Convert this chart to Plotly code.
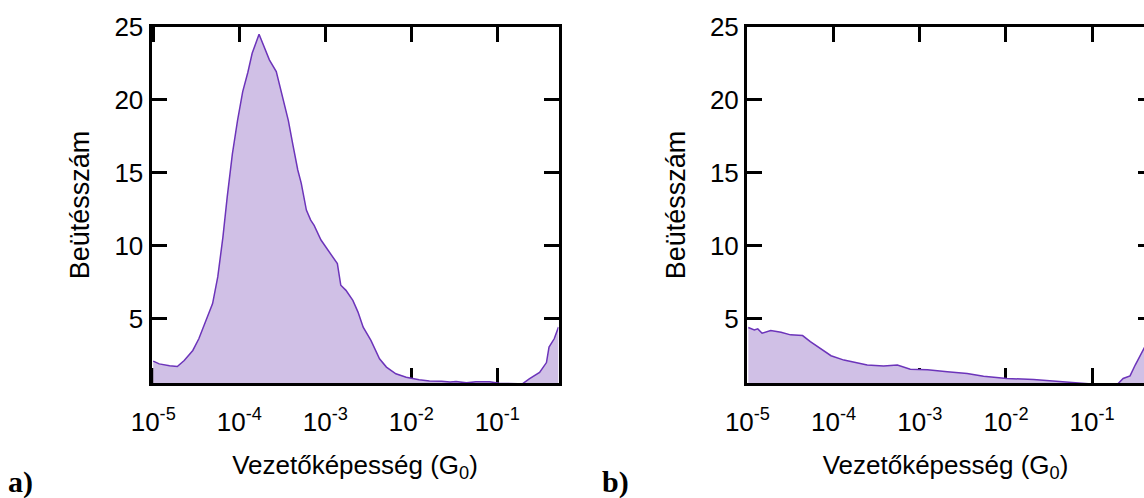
import numpy as np
import plotly.graph_objects as go

# ---------------- data (log10 of conductance in G0, counts) ----------------
a_logG = [-5.00, -4.93, -4.81, -4.72, -4.64, -4.54, -4.47, -4.37, -4.31, -4.25,
          -4.19, -4.14, -4.08, -4.02, -3.96, -3.90, -3.85, -3.77, -3.71, -3.65,
          -3.57, -3.50, -3.43, -3.38, -3.32, -3.28, -3.22, -3.17, -3.13, -3.05,
          -2.95, -2.86, -2.82, -2.76, -2.68, -2.62, -2.56, -2.47, -2.37, -2.29,
          -2.18, -2.06, -1.91, -1.79, -1.65, -1.55, -1.48, -1.36, -1.25, -1.09,
          -0.98, -0.85, -0.71, -0.63, -0.51, -0.43, -0.40, -0.34, -0.29]
a_counts = [2.10, 1.91, 1.78, 1.73, 2.14, 2.83, 3.63, 5.12, 6.04, 7.87,
            10.6, 13.36, 16.3, 18.6, 20.57, 21.9, 23.2, 24.5, 23.66, 22.75,
            21.95, 20.23, 18.6, 17.03, 15.2, 14.3, 12.45, 11.76, 11.4, 10.4,
            9.58, 8.78, 7.30, 6.95, 6.26, 5.46, 4.43, 3.52, 2.26, 1.69,
            1.23, 1.00, 0.82, 0.73, 0.72, 0.66, 0.70, 0.61, 0.68, 0.68,
            0.59, 0.56, 0.54, 0.88, 1.33, 2.00, 3.06, 3.63, 4.43]

b_logG = [-4.99, -4.92, -4.88, -4.83, -4.73, -4.61, -4.50, -4.36, -4.27, -4.15,
          -4.03, -3.88, -3.73, -3.61, -3.42, -3.26, -3.11, -2.91, -2.68, -2.45,
          -2.26, -1.99, -1.68, -1.41, -1.18, -0.98, -0.83, -0.71, -0.64, -0.56,
          -0.50, -0.45, -0.40, -0.34, -0.28]
b_counts = [4.40, 4.24, 4.31, 4.01, 4.20, 4.08, 3.90, 3.85, 3.44, 2.98,
            2.47, 2.17, 1.99, 1.83, 1.76, 1.83, 1.55, 1.50, 1.37, 1.25,
            1.07, 0.91, 0.84, 0.72, 0.63, 0.52, 0.40, 0.49, 0.91, 1.09,
            1.83, 2.40, 2.98, 3.60, 4.30]

x_tickvals = [1e-5, 1e-4, 1e-3, 1e-2, 1e-1]
x_ticktext = ["10<sup>-5</sup>", "10<sup>-4</sup>", "10<sup>-3</sup>",
              "10<sup>-2</sup>", "10<sup>-1</sup>"]
y_tickvals = [5, 10, 15, 20, 25]
x_title = "Vezetőképesség (G<sub>0</sub>)"
y_title = "Beütésszám"
panel_labels = ["a)", "b)"]

# ---------------- styling ----------------
W, H = 1144, 498
FILL = "rgb(208,192,230)"
LINE = "rgb(108,52,186)"
FONT = "Liberation Sans"

fig = go.Figure()
fig.add_trace(go.Scatter(x=np.power(10.0, a_logG), y=a_counts, mode="lines",
                         fill="tozeroy", fillcolor=FILL,
                         line=dict(color=LINE, width=1.5),
                         xaxis="x", yaxis="y", showlegend=False))
fig.add_trace(go.Scatter(x=np.power(10.0, b_logG), y=b_counts, mode="lines",
                         fill="tozeroy", fillcolor=FILL,
                         line=dict(color=LINE, width=1.5),
                         xaxis="x2", yaxis="y2", showlegend=False))
# helper trace for right-side tick marks of the cropped panel b
fig.add_trace(go.Scatter(x=[], y=[], xaxis="x2", yaxis="y3", showlegend=False))

ydom = [1 - 383 / H, 1 - 27 / H]
yrange = [0.6, 25.0]

common_x = dict(type="log", showgrid=False, zeroline=False, showline=True,
                linecolor="black", linewidth=3, ticks="inside", ticklen=15,
                tickwidth=3, tickcolor="black", tickvals=x_tickvals,
                ticktext=x_ticktext, tickfont=dict(family=FONT, size=26, color="black"),
                ticklabelstandoff=14,
                layer="below traces", automargin=False,
                title=dict(text=x_title, font=dict(family=FONT, size=26, color="black"),
                           standoff=20))
common_y = dict(showgrid=False, zeroline=False, showline=True, linecolor="black",
                linewidth=3, ticks="inside", ticklen=15, tickwidth=3,
                tickcolor="black", tickvals=y_tickvals, range=yrange, domain=ydom,
                tickfont=dict(family=FONT, size=26, color="black"),
                layer="below traces", automargin=False,
                title=dict(text=y_title, font=dict(family=FONT, size=27, color="black"),
                           standoff=17))

fig.update_layout(
    width=W, height=H, margin=dict(l=0, r=0, t=0, b=0),
    paper_bgcolor="white", plot_bgcolor="white",
    xaxis=dict(common_x, domain=[151.5 / W, 558.5 / W], range=[-5.02, -0.29],
               anchor="y", mirror="ticks"),
    yaxis=dict(common_y, anchor="x", mirror="ticks"),
    xaxis2=dict(common_x, domain=[747 / W, 1.0], range=[-5.005, -0.398],
                anchor="y2", mirror="ticks"),
    yaxis2=dict(common_y, anchor="x2", mirror=False),
    yaxis3=dict(overlaying="y2", side="right", anchor="x2", range=yrange,
                showgrid=False, zeroline=False, showline=False, ticks="inside",
                ticklen=6, tickwidth=3, tickcolor="black", tickvals=y_tickvals,
                showticklabels=False, layer="below traces"),
    annotations=[
        dict(text=panel_labels[0], x=6 / W, y=1 - 482 / H, xref="paper", yref="paper",
             xanchor="left", yanchor="middle", showarrow=False,
             font=dict(family="Liberation Serif", size=30, color="black", weight="bold")),
        dict(text=panel_labels[1], x=600 / W, y=1 - 482 / H, xref="paper", yref="paper",
             xanchor="left", yanchor="middle", showarrow=False,
             font=dict(family="Liberation Serif", size=30, color="black", weight="bold")),
    ],
)

fig.write_html("out.html")
